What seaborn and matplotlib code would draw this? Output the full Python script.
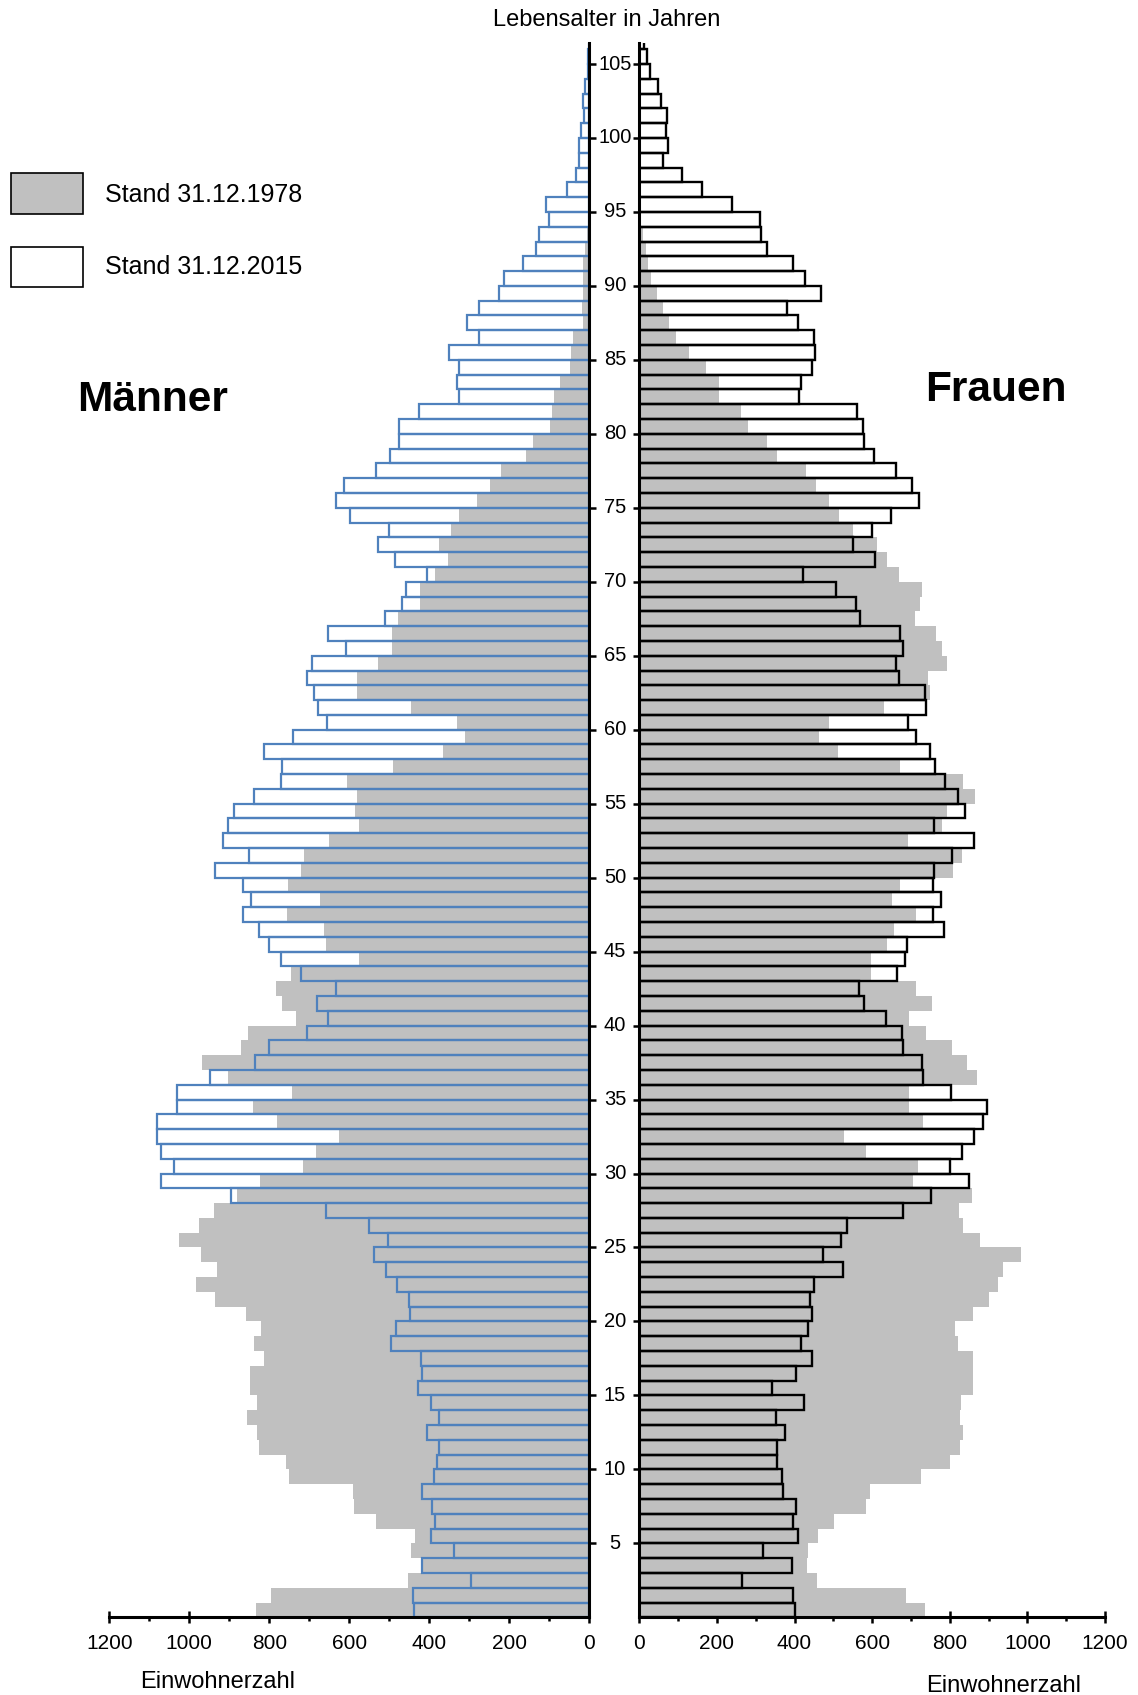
import numpy as np
import matplotlib
matplotlib.use("Agg")
import matplotlib.pyplot as plt
import matplotlib.transforms as mtransforms
from matplotlib.patches import Rectangle
import seaborn as sns

sns.set_style("white")
plt.rcParams['font.family'] = ['Liberation Sans', 'DejaVu Sans']
plt.rcParams['text.color'] = 'black'
plt.rcParams['xtick.color'] = 'black'
plt.rcParams['ytick.color'] = 'black'

# Altersjahre von oben (106) nach unten (0)
ages = list(range(106, -1, -1))

men_2015 = [
    2, 3, 3, 11, 15, 13, 22,                                   # 106-100
    26, 26, 33, 57, 109, 100, 125, 133, 167, 213,              # 99-90
    226, 276, 307, 275, 352, 327, 331, 327, 425, 477,          # 89-80
    477, 498, 533, 613, 633, 598, 500, 529, 486, 407,          # 79-70
    458, 469, 511, 653, 609, 694, 707, 688, 679, 655,          # 69-60
    742, 813, 768, 772, 838, 888, 903, 915, 850, 936,          # 59-50
    865, 846, 865, 825, 800, 772, 720, 634, 680, 653,          # 49-40
    705, 800, 836, 948, 1032, 1032, 1082, 1080, 1072, 1038,    # 39-30
    1072, 897, 658, 551, 503, 538, 508, 482, 451, 448,         # 29-20
    484, 497, 422, 419, 429, 396, 376, 407, 376, 382,          # 19-10
    388, 418, 394, 386, 396, 338, 418, 297, 442, 438,          # 9-0
]
men_1978 = [
    0, 0, 0, 0, 0, 0, 0,
    0, 0, 0, 0, 0, 0, 5, 12, 15, 15,
    17, 19, 17, 40, 46, 48, 73, 88, 94, 98,
    140, 158, 221, 248, 280, 325, 347, 375, 353, 386,
    423, 423, 478, 494, 494, 528, 582, 582, 447, 330,
    311, 365, 490, 605, 582, 586, 577, 651, 713, 722,
    754, 673, 755, 663, 658, 576, 747, 784, 768, 734,
    854, 872, 968, 903, 744, 840, 780, 625, 683, 715,
    823, 882, 938, 975, 1026, 972, 930, 983, 936, 858,
    822, 838, 813, 848, 848, 832, 855, 832, 825, 759,
    751, 590, 588, 533, 436, 446, 415, 453, 796, 833,
]
women_2015 = [
    12, 19, 27, 47, 56, 72, 69,
    75, 62, 109, 162, 240, 310, 314, 328, 395, 426,
    467, 380, 408, 450, 454, 445, 417, 412, 560, 577,
    580, 604, 661, 703, 722, 648, 599, 550, 607, 421,
    507, 558, 569, 672, 679, 661, 668, 737, 739, 693,
    712, 749, 763, 788, 822, 840, 759, 863, 805, 760,
    758, 777, 758, 784, 691, 684, 663, 567, 580, 636,
    676, 680, 729, 732, 802, 895, 885, 863, 832, 801,
    850, 752, 679, 534, 519, 473, 524, 450, 440, 444,
    434, 417, 444, 405, 341, 424, 351, 375, 354, 356,
    369, 371, 403, 395, 408, 320, 393, 264, 397, 401,
]
women_1978 = [
    0, 0, 0, 0, 0, 0, 0,
    0, 0, 0, 0, 0, 4, 10, 17, 23, 30,
    45, 62, 77, 95, 128, 172, 206, 206, 262, 279,
    330, 356, 429, 455, 489, 515, 550, 612, 639, 668,
    728, 723, 710, 765, 779, 794, 743, 749, 631, 488,
    463, 513, 672, 833, 866, 792, 779, 692, 831, 809,
    672, 652, 713, 657, 639, 596, 596, 713, 753, 696,
    738, 807, 845, 870, 696, 696, 732, 527, 584, 717,
    704, 857, 825, 835, 878, 983, 936, 925, 900, 861,
    814, 822, 861, 861, 861, 829, 826, 835, 826, 801,
    725, 594, 584, 502, 461, 436, 431, 457, 687, 736,
]

age_ticks = list(range(5, 106, 5))
x_ticks = list(range(0, 1201, 200))

GRAY = '#c0c0c0'
BLUE = '#4f81bd'

# Balken liegen zwischen Alter und Alter+1
age_mid = np.array(ages) + 0.5

fig = plt.figure(figsize=(11.38, 16.95), dpi=100)
ax_m = fig.add_axes([0.09605, 0.04584, 0.42179, 0.92879])
ax_w = fig.add_axes([0.56177, 0.04584, 0.40923, 0.92879])

# Männer
sns.barplot(x=men_1978, y=age_mid, orient='y', native_scale=True, width=1,
            color=GRAY, saturation=1, linewidth=0, errorbar=None, ax=ax_m)
sns.barplot(x=men_2015, y=age_mid, orient='y', native_scale=True, width=1,
            color=BLUE, saturation=1, fill=False, linewidth=1.6, errorbar=None, ax=ax_m)

# Frauen
sns.barplot(x=women_1978, y=age_mid, orient='y', native_scale=True, width=1,
            color=GRAY, saturation=1, linewidth=0, errorbar=None, ax=ax_w)
sns.barplot(x=women_2015, y=age_mid, orient='y', native_scale=True, width=1,
            color='black', saturation=1, fill=False, linewidth=1.7, errorbar=None, ax=ax_w)

for ax in (ax_m, ax_w):
    ax.set_ylim(0, 106.42)
    ax.set_xlabel('')
    ax.set_ylabel('')
    ax.grid(False)
    ax.spines['top'].set_visible(False)
    for s in ax.spines.values():
        s.set_color('black')
        s.set_linewidth(2.2)
    ax.set_yticks(age_ticks)
    ax.set_yticklabels([])
    ax.set_xticks(x_ticks)
    ax.set_xticklabels([str(t) for t in x_ticks])
    ax.set_xticks(list(range(100, 1200, 200)), minor=True)
    ax.tick_params(axis='x', which='major', direction='inout', length=9, width=1.8,
                   pad=7.5, labelsize=15, bottom=True, color='black', labelcolor='black')
    ax.tick_params(axis='x', which='minor', direction='out', length=3, width=1.8,
                   bottom=True, color='black')

ax_m.set_xlim(1200, 0)
ax_m.spines['left'].set_visible(False)
ax_m.tick_params(axis='y', which='major', direction='out', length=5, width=1.8,
                 right=True, left=False, labelright=False, labelleft=False, color='black')

ax_w.set_xlim(0, 1200)
ax_w.spines['right'].set_visible(False)
ax_w.tick_params(axis='y', which='major', direction='out', length=4.5, width=1.8,
                 left=True, right=False, labelleft=False, color='black')

# Altersbeschriftung zwischen den beiden Achsen
trans = mtransforms.blended_transform_factory(fig.transFigure, ax_w.transData)
for a in age_ticks:
    ax_w.text(615 / 1138, a, str(a), transform=trans, ha='center', va='center',
              fontsize=14.5, color='black', clip_on=False)

W, H = 1138, 1695
fig.text(607 / W, 1 - 19.5 / H, 'Lebensalter in Jahren', ha='center', va='center',
         fontsize=17, color='black')
fig.text(218 / W, 1 - 1688 / H, 'Einwohnerzahl', ha='center', va='baseline',
         fontsize=17, color='black')
fig.text(1004 / W, 1 - 1691.5 / H, 'Einwohnerzahl', ha='center', va='baseline',
         fontsize=17, color='black')
fig.text(153 / W, 1 - 400 / H, 'Männer', ha='center', va='center', fontsize=30.5,
         fontweight='bold', color='black')
fig.text(996 / W, 1 - 390 / H, 'Frauen', ha='center', va='center', fontsize=30.5,
         fontweight='bold', color='black')

# Legende
fig.add_artist(Rectangle((11 / W, 1 - 214 / H), 72 / W, 41 / H, transform=fig.transFigure,
                         facecolor=GRAY, edgecolor='black', linewidth=1.2))
fig.add_artist(Rectangle((11 / W, 1 - 287 / H), 72 / W, 40 / H, transform=fig.transFigure,
                         facecolor='white', edgecolor='black', linewidth=1.2))
fig.text(105 / W, 1 - 195 / H, 'Stand 31.12.1978', ha='left', va='center', fontsize=18,
         color='black')
fig.text(105 / W, 1 - 266.5 / H, 'Stand 31.12.2015', ha='left', va='center', fontsize=18,
         color='black')

fig.savefig('out.png', dpi=100)
